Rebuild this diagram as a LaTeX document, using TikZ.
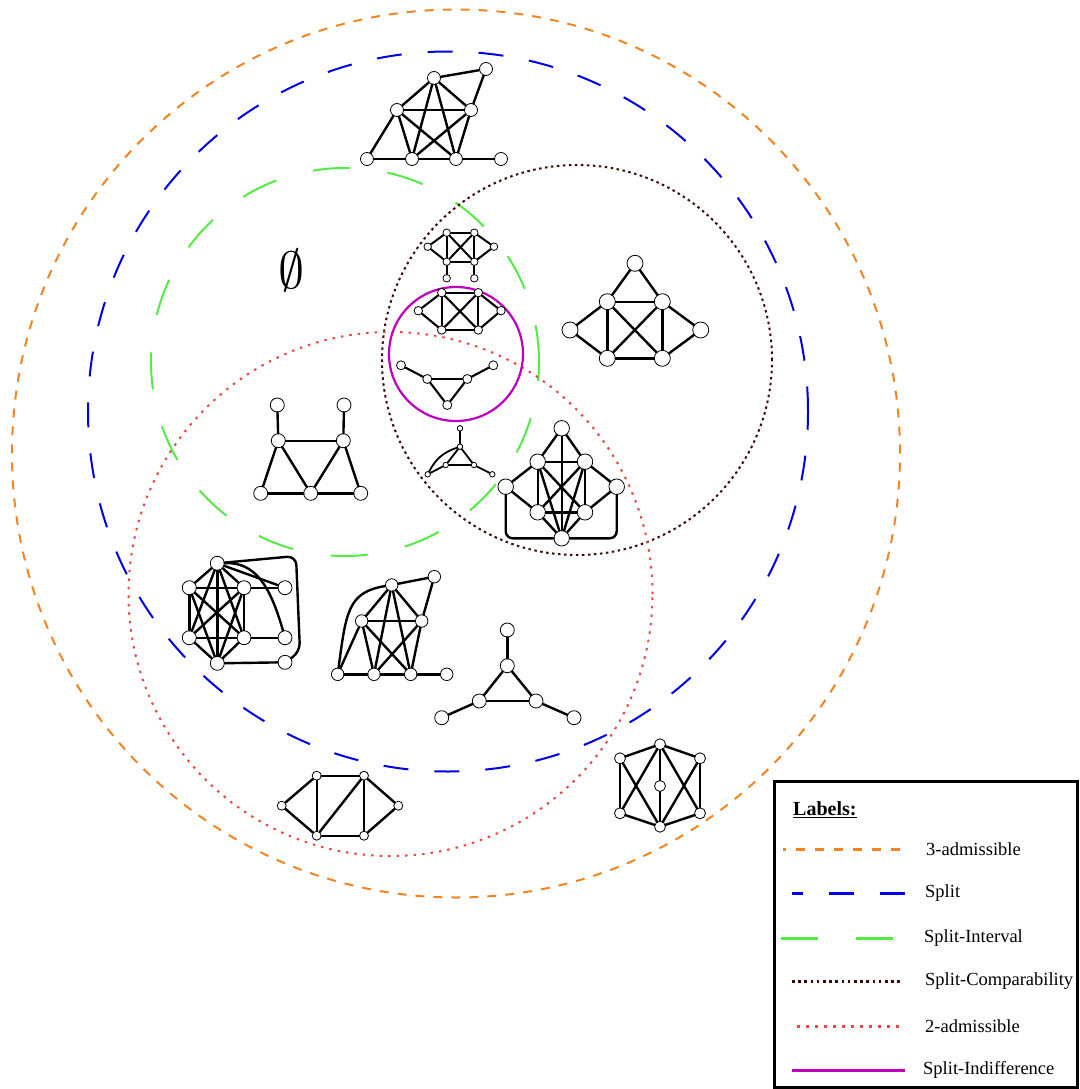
\documentclass[tikz,border=0pt]{standalone}
\usepackage{fontspec}
\setmainfont{Liberation Serif}
\definecolor{cOrange}{RGB}{242,133,34}
\definecolor{cBlue}{RGB}{0,0,230}
\definecolor{cGreen}{RGB}{85,235,70}
\definecolor{cBrown}{RGB}{60,8,8}
\definecolor{cRed}{RGB}{235,70,70}
\definecolor{cMag}{RGB}{190,0,190}
\begin{document}
\begin{tikzpicture}[x=1pt,y=-1pt,
  vtx/.style={circle,draw,fill=white,inner sep=0pt,line width=0.8pt,minimum size=#1},
  gedge/.style={line width=#1,line cap=round},
  gedge/.default=2.4pt,
  sOrange/.style={cOrange,line width=2pt,dash pattern=on 9pt off 9pt},
  sBlue/.style={cBlue,line width=2pt,dash pattern=on 25pt off 26pt},
  sGreen/.style={cGreen,line width=2pt,dash pattern=on 37pt off 38pt},
  sBrown/.style={cBrown,line width=2pt,dash pattern=on 2.5pt off 3.5pt},
  sRed/.style={cRed,line width=2pt,dash pattern=on 2.5pt off 6pt},
  sMag/.style={cMag,line width=2.2pt},
  legtext/.style={anchor=west,font=\fontsize{18.5}{22}\selectfont,inner sep=0pt}
]
\useasboundingbox (0,0) rectangle (1079,1089);

% class circles
\draw[sOrange] (456,453.5) circle[radius=444pt];
\draw[sBlue] (448,411.5) circle[radius=360pt];
\draw[sGreen] (345,362) circle[radius=194pt];
\draw[sBrown] (577,360) circle[radius=195pt];
\draw[sRed] (390.5,594) circle[radius=262pt];
\draw[sMag] (456,354) circle[radius=67pt];

\node[font=\fontsize{24.88}{30}\selectfont,scale=2.1] (empty) at (292,270) {$\emptyset$};

% G1 top
\foreach \n/\x/\y in {a1/434/78,a2/486/69,a3/397/110,a4/471/110,a5/367/159,a6/412/159,a7/456/159,a8/501/159}
  \node[vtx=13] (\n) at (\x,\y) {};
\foreach \p/\q in {a1/a2,a2/a4,a1/a3,a1/a4,a1/a6,a1/a7,a3/a4,a3/a7,a4/a6,a3/a5,a3/a6,a4/a7,a5/a6,a6/a7,a7/a8}
  \draw[gedge] (\p) -- (\q);

% G2 small
\foreach \n/\x/\y in {b1/446.7/232.7,b2/474.3/232.7,b3/427.7/246.7,b4/494/246.7,b5/446.7/261.7,b6/474.3/261.7,b7/446.7/278.3,b8/474.3/278.3}
  \node[vtx=7.5] (\n) at (\x,\y) {};
\foreach \p/\q in {b1/b2,b1/b3,b2/b4,b3/b5,b4/b6,b5/b6,b1/b5,b2/b6,b1/b6,b2/b5,b5/b7,b6/b8}
  \draw[gedge=2pt] (\p) -- (\q);

% G3
\foreach \n/\x/\y in {c1/441.7/292.7,c2/478.3/292.7,c3/418.3/310.7,c4/501/310.7,c5/441.7/330,c6/478.3/330}
  \node[vtx=8.5] (\n) at (\x,\y) {};
\foreach \p/\q in {c1/c2,c1/c3,c2/c4,c3/c5,c4/c6,c5/c6,c1/c5,c2/c6,c1/c6,c2/c5}
  \draw[gedge=2.1pt] (\p) -- (\q);

% G4
\foreach \n/\x/\y in {d1/401/365.3,d2/427.3/379,d3/467.3/379,d4/493.3/365.3,d5/447.3/405}
  \node[vtx=9] (\n) at (\x,\y) {};
\foreach \p/\q in {d1/d2,d2/d3,d3/d4,d2/d5,d3/d5}
  \draw[gedge=2.1pt] (\p) -- (\q);

% G5
\foreach \n/\x/\y in {e1/635/263.3,e2/607.3/301.7,e3/662.3/301.7,e4/570/330,e5/700.7/330,e6/607.3/358.3,e7/662.3/358.3}
  \node[vtx=16] (\n) at (\x,\y) {};
\foreach \p/\q in {e1/e2,e1/e3,e2/e3,e2/e4,e3/e5,e2/e6,e3/e7,e2/e7,e3/e6,e6/e7,e4/e6,e5/e7}
  \draw[gedge] (\p) -- (\q);

% G6
\foreach \n/\x/\y in {f1/277.3/405,f2/344/405,f3/278.3/440.7,f4/343.3/440.7,f5/260.7/493.3,f6/310.7/493.3,f7/360.7/493.3}
  \node[vtx=14] (\n) at (\x,\y) {};
\foreach \p/\q in {f1/f3,f2/f4,f3/f4,f3/f5,f3/f6,f4/f6,f4/f7,f5/f6,f6/f7}
  \draw[gedge] (\p) -- (\q);

% G7 tiny
\foreach \n/\x/\y in {h1/460/428.3,h2/460/446.7,h3/445.7/465,h4/474/465,h5/427.7/474.3,h6/492.3/474.3}
  \node[vtx=5.5] (\n) at (\x,\y) {};
\foreach \p/\q in {h1/h2,h2/h3,h2/h4,h3/h4,h3/h5,h4/h6}
  \draw[gedge=1.8pt] (\p) -- (\q);
\draw[gedge=1.8pt] (h5) to[bend left=22] (h2);

% G8
\foreach \n/\x/\y in {i1/561.7/428.3,i2/537.7/461.7,i3/585/461.7,i4/505.7/486.7,i5/616.7/486.7,i6/537.7/512.3,i7/585/512.3,i8/561.7/538.3}
  \node[vtx=15.5] (\n) at (\x,\y) {};
\foreach \p/\q in {i1/i2,i1/i3,i1/i8,i2/i3,i2/i4,i3/i5,i2/i6,i3/i7,i2/i7,i3/i6,i2/i8,i3/i8,i4/i6,i5/i7,i6/i7,i6/i8,i7/i8}
  \draw[gedge] (\p) -- (\q);
\draw[gedge,rounded corners=7pt] (i4.south) |- (i8.west);
\draw[gedge,rounded corners=7pt] (i5.south) |- (i8.east);

% G9
\foreach \n/\x/\y in {j1/217.3/563.3,j2/189.3/587.7,j3/244/587.7,j4/189.3/637.7,j5/244/637.7,j6/217.3/663.3,j7/285/587.7,j8/285/637.7,j9/285/662.3}
  \node[vtx=14] (\n) at (\x,\y) {};
\foreach \p/\q in {j1/j2,j1/j3,j1/j4,j1/j5,j1/j6,j2/j3,j2/j4,j2/j5,j2/j6,j3/j4,j3/j5,j3/j6,j4/j5,j4/j6,j5/j6,j3/j7,j5/j8,j6/j9,j1/j7}
  \draw[gedge] (\p) -- (\q);
\draw[gedge] (j1) .. controls (255,562) and (270,585) .. (j8);
\draw[gedge,rounded corners=9pt] (j1) -- (296,556) -- (300,652) -- (j9);

% G10
\foreach \n/\x/\y in {k1/391.7/585,k2/434.3/576.7,k3/361.7/621,k4/421.7/621,k5/337.7/674.3,k6/374/674.3,k7/410.7/674.3,k8/446.7/674.3}
  \node[vtx=12.5] (\n) at (\x,\y) {};
\foreach \p/\q in {k1/k2,k2/k4,k1/k3,k1/k4,k1/k6,k1/k7,k3/k4,k3/k7,k4/k6,k3/k5,k3/k6,k4/k7,k5/k6,k6/k7,k7/k8}
  \draw[gedge] (\p) -- (\q);
\draw[gedge] (k5) .. controls (346,612) and (348,592) .. (k1);

% G11
\foreach \n/\x/\y in {l1/507.3/630,l2/507.3/665.7,l3/479.3/701,l4/536/701,l5/441.7/717.7,l6/574/717.7}
  \node[vtx=14] (\n) at (\x,\y) {};
\foreach \p/\q in {l1/l2,l2/l3,l2/l4,l3/l4,l3/l5,l4/l6}
  \draw[gedge] (\p) -- (\q);

% G12
\foreach \n/\x/\y in {m1/281.7/805.7,m2/316.7/775.7,m3/364/775.7,m4/398.3/805.7,m5/316.7/835.7,m6/364/835.7}
  \node[vtx=9] (\n) at (\x,\y) {};
\foreach \p/\q in {m1/m2,m1/m5,m2/m3,m2/m5,m3/m5,m3/m6,m3/m4,m4/m6,m5/m6}
  \draw[gedge] (\p) -- (\q);

% G13
\foreach \n/\x/\y in {n1/660/744.3,n2/620/758.3,n3/700/758.3,n4/660/786,n5/620/813.3,n6/700/813.3,n7/660/826.7}
  \node[vtx=11] (\n) at (\x,\y) {};
\foreach \p/\q in {n1/n2,n1/n3,n2/n5,n3/n6,n5/n7,n6/n7,n1/n4,n4/n7,n1/n5,n1/n6,n2/n7,n3/n7}
  \draw[gedge] (\p) -- (\q);

% legend
\draw[line width=3pt] (774.5,781.5) rectangle (1077.5,1087.5);
\node[anchor=west,inner sep=0pt,font=\bfseries\fontsize{20}{24}\selectfont] (lbl) at (793,810) {\underline{Labels:}};
\draw[cOrange,line width=3pt,dash pattern=on 9pt off 10pt,dash phase=6pt] (783,849) -- (903,849);
\draw[cBlue,line width=3pt,dash pattern=on 25pt off 26pt,dash phase=14pt] (792,893) -- (905,893);
\draw[cGreen,line width=3pt,dash pattern=on 37pt off 38pt] (781,938) -- (895,938);
\draw[cBrown,line width=3pt,dash pattern=on 2.5pt off 3.7pt] (792,981) -- (903,981);
\draw[cRed,line width=3pt,dash pattern=on 3pt off 6pt] (797,1026) -- (905,1026);
\draw[cMag,line width=3pt] (792,1070) -- (905,1070);
\node[legtext] (t1) at (926,849) {3-admissible};
\node[legtext] (t2) at (925,893) {Split};
\node[legtext] (t3) at (924,938) {Split-Interval};
\node[legtext] (t4) at (925,981) {Split-Comparability};
\node[legtext] (t5) at (925,1026) {2-admissible};
\node[legtext] (t6) at (923,1070) {Split-Indifference};
\end{tikzpicture}
\end{document}
